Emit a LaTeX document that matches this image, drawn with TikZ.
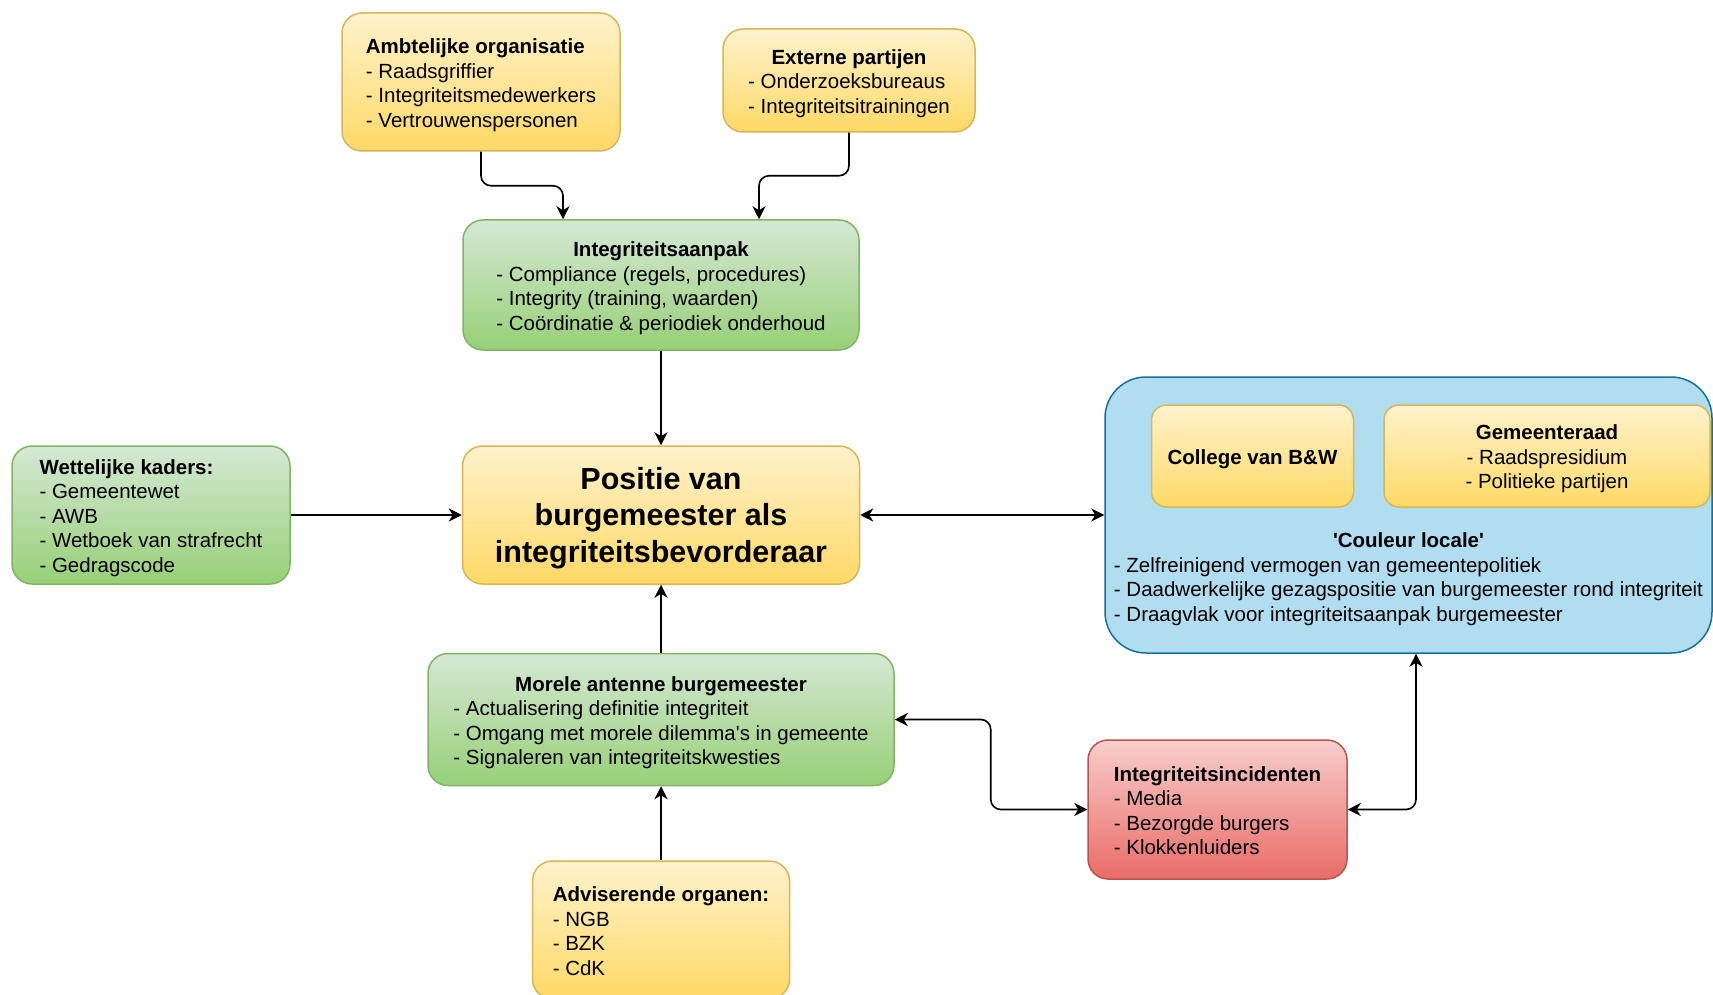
\documentclass[tikz,border=0pt]{standalone}
\usepackage{fontspec}
\setmainfont{Liberation Sans}
\usetikzlibrary{arrows.meta}
\definecolor{geelboven}{HTML}{FFF2CC}
\definecolor{geelonder}{HTML}{FFD966}
\definecolor{geelrand}{HTML}{D6B656}
\definecolor{groenboven}{HTML}{D5E8D4}
\definecolor{groenonder}{HTML}{97D077}
\definecolor{groenrand}{HTML}{82B366}
\definecolor{roodboven}{HTML}{F8CECC}
\definecolor{roodonder}{HTML}{EA6B66}
\definecolor{roodrand}{HTML}{B85450}
\definecolor{blauw}{HTML}{B1DDF0}
\definecolor{blauwrand}{HTML}{10739E}
\newcommand{\kop}[1]{\multicolumn{1}{@{}c@{}}{\textbf{#1}}}
\newcommand{\blok}[2]{\begin{tabular}{@{}#1@{}}#2\\[-7pt]\end{tabular}}

\begin{document}
\begin{tikzpicture}[x=1pt,y=-1pt,font=\fontsize{20.5}{24.5}\selectfont,
    >={Stealth[length=13pt,width=13pt,inset=4pt]},
    geel/.style={top color=geelboven,bottom color=geelonder,draw=geelrand},
    groen/.style={top color=groenboven,bottom color=groenonder,draw=groenrand},
    rood/.style={top color=roodboven,bottom color=roodonder,draw=roodrand},
    lijn/.style={draw,line width=1.6pt,rounded corners=10pt}]
  \useasboundingbox (0,0) rectangle (1713,995);
  \clip (0,0) rectangle (1713,995);
  \node[draw=blauwrand,fill=blauw,line width=1.5pt,rounded corners=41pt,minimum width=607pt,minimum height=276pt] (lokaal) at (1408.5,515) {};
  \node (couleur) at (1408.5,576) {\blok{l}{\kop{\textquotesingle Couleur locale\textquotesingle}\\- Zelfreinigend vermogen van gemeentepolitiek\\- Daadwerkelijke gezagspositie van burgemeester rond integriteit\\- Draagvlak voor integriteitsaanpak burgemeester}};
  \begin{scope}[every node/.style={draw,line width=1.5pt,rounded corners=20pt,inner sep=0pt}]
    \node[geel,minimum width=278pt,minimum height=138pt] (amb) at (481,82) {\blok{l}{\textbf{Ambtelijke organisatie}\\- Raadsgriffier\\- Integriteitsmedewerkers\\- Vertrouwenspersonen}};
    \node[geel,minimum width=252pt,minimum height=103pt] (ext) at (849,80.5) {\blok{l}{\kop{Externe partijen}\\- Onderzoeksbureaus\\- Integriteitsitrainingen}};
    \node[groen,minimum width=396pt,minimum height=130pt] (aanpak) at (661,285) {\blok{l}{\kop{Integriteitsaanpak}\\- Compliance (regels, procedures)\\- Integrity (training, waarden)\\- Coördinatie \& periodiek onderhoud}};
    \node[groen,minimum width=278pt,minimum height=138pt] (wet) at (151,515) {\blok{l}{\textbf{Wettelijke kaders:}\\- Gemeentewet\\- AWB\\- Wetboek van strafrecht\\- Gedragscode}};
    \node[geel,minimum width=397pt,minimum height=138pt,font=\fontsize{30.5}{36.5}\selectfont\bfseries] (positie) at (661,515) {\blok{c}{Positie van\\burgemeester als\\integriteitsbevorderaar}};
    \node[geel,minimum width=202pt,minimum height=102pt,rounded corners=15pt] (college) at (1252.5,456) {\blok{c}{\textbf{College van B\&W}}};
    \node[geel,minimum width=326pt,minimum height=102pt,rounded corners=15pt] (raad) at (1547,456) {\blok{c}{\textbf{Gemeenteraad}\\- Raadspresidium\\- Politieke partijen}};
    \node[groen,minimum width=466pt,minimum height=132pt] (moreel) at (661,719.5) {\blok{l}{\kop{Morele antenne burgemeester}\\- Actualisering definitie integriteit\\- Omgang met morele dilemma\textquotesingle s in gemeente\\- Signaleren van integriteitskwesties}};
    \node[rood,minimum width=259pt,minimum height=139pt] (incident) at (1217.5,809.5) {\blok{l}{\textbf{Integriteitsincidenten}\\- Media\\- Bezorgde burgers\\- Klokkenluiders}};
    \node[geel,minimum width=257pt,minimum height=138pt] (advies) at (661,930) {\blok{l}{\textbf{Adviserende organen:}\\- NGB\\- BZK\\- CdK}};
  \end{scope}
  \begin{scope}[every edge/.style={lijn}]
    \path (aanpak) edge[->] (positie);
    \path (wet) edge[->] (positie);
    \path (positie) edge[<->] (lokaal);
    \path (moreel) edge[->] (positie);
    \path (advies) edge[->] (moreel);
  \end{scope}
  \draw[lijn,->] (amb.south) -- ++(0,34) -| ([xshift=-98pt]aanpak.north);
  \draw[lijn,->] (ext.south) -- ++(0,43) -| ([xshift=98pt]aanpak.north);
  \draw[lijn,<->] (moreel.east) -- ++(96,0) |- (incident.west);
  \draw[lijn,<->] (incident.east) -| ([xshift=7.5pt]lokaal.south);
\end{tikzpicture}
\end{document}
